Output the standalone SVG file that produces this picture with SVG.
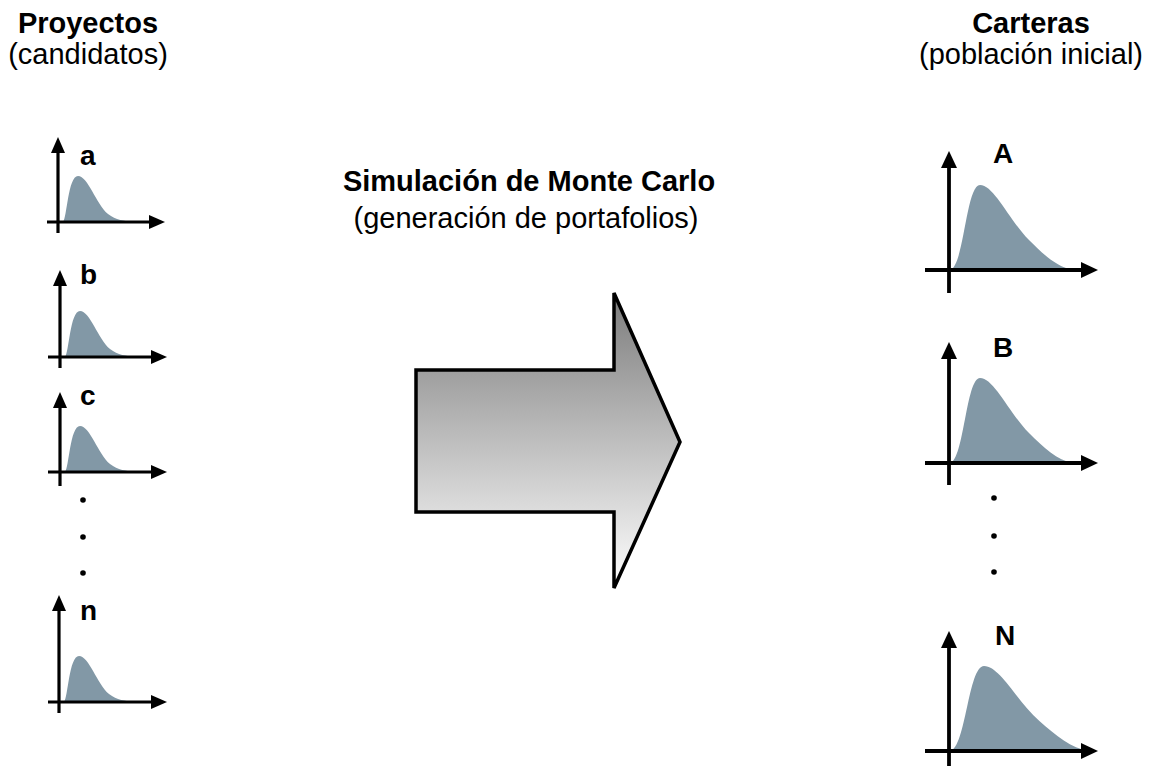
<svg xmlns="http://www.w3.org/2000/svg" xmlns:xlink="http://www.w3.org/1999/xlink" width="1151" height="772" viewBox="0 0 1151 772">
<style>
text{font-family:"Liberation Sans",Arial,sans-serif;font-size:29px;fill:#000}
.b{font-weight:bold}
.lbl{font-weight:bold;font-size:28px}
.axs{stroke:#000;stroke-width:3.2;fill:none;marker-end:url(#ahs)}
.axl{stroke:#000;stroke-width:3.8;fill:none;marker-end:url(#ahl)}
.dist{fill:#8298a6}
.dot{fill:#000}
</style>
<defs>
<marker id="ahs" markerUnits="userSpaceOnUse" markerWidth="16" markerHeight="14" refX="4" refY="7" orient="auto" viewBox="0 0 16 14">
<path d="M0,0 L16,7 L0,14 Z" fill="#000"/>
</marker>
<marker id="ahl" markerUnits="userSpaceOnUse" markerWidth="17" markerHeight="16" refX="5" refY="8" orient="auto" viewBox="0 0 17 16">
<path d="M0,0 L17,8 L0,16 Z" fill="#000"/>
</marker>
<linearGradient id="grad" x1="0" y1="0" x2="0" y2="1">
<stop offset="0" stop-color="#7c7c7c"/>
<stop offset="1" stop-color="#ffffff"/>
</linearGradient>
<path id="cs" d="M5,0 C9,-4 10,-46 20,-46 C30,-46 38,-18 50,-8 C58,-2 66,-1 76,0 Z"/>
<path id="cl" d="M1,0 C15,-3 17,-85 31,-85 C45,-85 60,-50 80,-30 C95,-15 108,-3 124,0 Z"/>
</defs>

<g id="title-proyectos">
<text class="b" x="88" y="33" text-anchor="middle">Proyectos</text>
<text x="88" y="64" text-anchor="middle">(candidatos)</text>
</g>
<g id="title-carteras">
<text class="b" x="1031" y="33" text-anchor="middle">Carteras</text>
<text x="1031" y="64" text-anchor="middle">(población inicial)</text>
</g>
<g id="title-montecarlo">
<text class="b" x="529" y="191" text-anchor="middle">Simulación de Monte Carlo</text>
<text x="526" y="228" text-anchor="middle">(generación de portafolios)</text>
</g>

<g id="proj-a" transform="translate(58,222)">
<use xlink:href="#cs" class="dist"/>
<line class="axs" x1="0" y1="11" x2="0" y2="-73"/>
<line class="axs" x1="-11" y1="0" x2="95" y2="0"/>
<text class="lbl" x="22" y="-57">a</text>
</g>
<g id="proj-b" transform="translate(60,357)">
<use xlink:href="#cs" class="dist"/>
<line class="axs" x1="0" y1="11" x2="0" y2="-75"/>
<line class="axs" x1="-12" y1="0" x2="95" y2="0"/>
<text class="lbl" x="20" y="-73">b</text>
</g>
<g id="proj-c" transform="translate(60,472)">
<use xlink:href="#cs" class="dist"/>
<line class="axs" x1="0" y1="14" x2="0" y2="-68"/>
<line class="axs" x1="-12" y1="0" x2="95" y2="0"/>
<text class="lbl" x="20" y="-67">c</text>
</g>
<g id="proj-dots">
<circle class="dot" cx="83" cy="500" r="2.8"/>
<circle class="dot" cx="83" cy="537" r="2.8"/>
<circle class="dot" cx="83" cy="573" r="2.8"/>
</g>
<g id="proj-n" transform="translate(59,702)">
<use xlink:href="#cs" class="dist"/>
<line class="axs" x1="0" y1="11" x2="0" y2="-95"/>
<line class="axs" x1="-11" y1="0" x2="96" y2="0"/>
<text class="lbl" x="21" y="-82">n</text>
</g>

<g id="big-arrow">
<path d="M416,370 L614,370 L614,293 L680,442 L614,588 L614,512 L416,512 Z" fill="url(#grad)" stroke="#000" stroke-width="3.5" stroke-linejoin="miter"/>
</g>

<g id="cart-A" transform="translate(949,270)">
<use xlink:href="#cl" class="dist"/>
<line class="axl" x1="0" y1="23" x2="0" y2="-107"/>
<line class="axl" x1="-24" y1="0" x2="137" y2="0"/>
<text class="lbl" x="44" y="-107">A</text>
</g>
<g id="cart-B" transform="translate(949,463)">
<use xlink:href="#cl" class="dist"/>
<line class="axl" x1="0" y1="22" x2="0" y2="-109"/>
<line class="axl" x1="-24" y1="0" x2="137" y2="0"/>
<text class="lbl" x="44" y="-106">B</text>
</g>
<g id="cart-dots">
<circle class="dot" cx="994" cy="498" r="2.8"/>
<circle class="dot" cx="994" cy="536" r="2.8"/>
<circle class="dot" cx="994" cy="572" r="2.8"/>
</g>
<g id="cart-N" transform="translate(949,751)">
<use xlink:href="#cl" class="dist" transform="scale(1.13,1)"/>
<line class="axl" x1="0" y1="15" x2="0" y2="-108"/>
<line class="axl" x1="-24" y1="0" x2="137" y2="0"/>
<text class="lbl" x="46" y="-106">N</text>
</g>
</svg>
